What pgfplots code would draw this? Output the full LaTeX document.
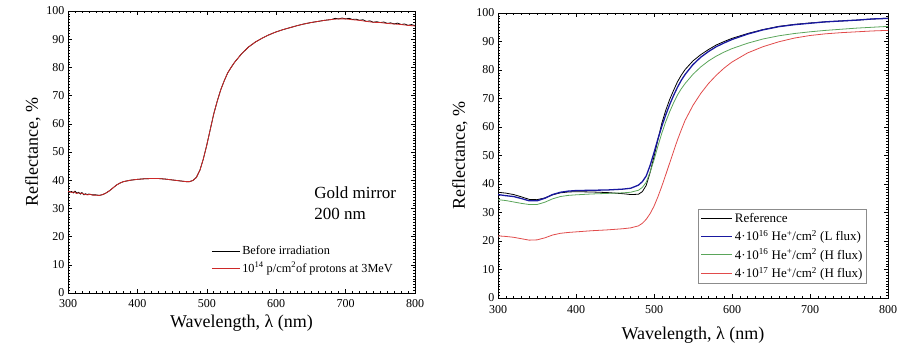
\documentclass[border=0pt]{standalone}
\usepackage{pgfplots}
\pgfplotsset{compat=1.18}
\usepackage{fontspec}
\setmainfont{Liberation Serif}

\definecolor{irrred}{RGB}{205,40,40}
\definecolor{lfluxblue}{RGB}{25,25,160}
\definecolor{hfluxgreen}{RGB}{90,165,90}
\definecolor{hfluxred}{RGB}{225,75,75}

\newcommand\labelfont{\fontsize{18bp}{20bp}\selectfont}

\pgfplotsset{
  reflaxis/.style={
    scale only axis,
    xmin=300, xmax=800, ymin=0, ymax=100,
    xtick={300,400,...,800}, ytick={0,10,...,100},
    minor x tick num=9, minor y tick num=9,
    tick align=inside, xtick pos=both, ytick pos=both,
    major tick length=4bp, minor tick length=2bp,
    every tick/.style={black, line width=0.5pt},
    axis line style={line width=0.9pt},
    /pgf/number format/assume math mode=true,
    ticklabel style={font=\fontsize{12bp}{13bp}\selectfont},
    xlabel={Wavelength, λ (nm)},
    ylabel={Reflectance, \%},
    every axis plot/.append style={line width=0.8pt},
    legend cell align=left,
  },
}

\begin{document}
\begin{tikzpicture}
\path[use as bounding box] (0,0) rectangle (913bp,351bp);

% Gold mirror before and after proton irradiation
\begin{axis}[reflaxis,
  at={(68bp,58bp)}, anchor=south west,
  width=347bp, height=282bp,
  every axis x label/.style={at={(axis description cs:0.5,0)}, yshift=-30bp, anchor=center, font=\labelfont},
  every axis y label/.style={at={(axis description cs:0,0.5)}, xshift=-35bp, rotate=90, anchor=center, font=\labelfont},
  xticklabel style={yshift=-3bp},
  legend style={at={(axis description cs:0.41,0.178)}, anchor=north west,
    draw=none, fill=none, font=\fontsize{12.3bp}{13.5bp}\selectfont,
    row sep=2bp, inner sep=1bp},
  legend image code/.code={\draw[#1] (0bp,0bp) -- (28bp,0bp);},
]
\addplot[black] coordinates {
(300,36.2) (302,35.7) (305,36.0) (308,35.5) (310,36.1) (313,35.4) (315,35.7) (318,35.1)
(320,35.6) (323,34.8) (325,35.2) (328,34.9) (330,35.1) (335,34.8) (340,34.8) (345,34.6)
(350,34.9) (355,35.5) (360,36.3) (365,37.3) (370,38.3) (375,39.0) (380,39.5) (390,40.0)
(400,40.3) (410,40.5) (420,40.6) (430,40.6) (440,40.4) (450,40.1) (460,39.8) (470,39.5)
(475,39.5) (480,39.9) (485,41.0) (490,43.5) (495,47.5) (500,52.5) (505,58.0) (510,63.5)
(515,68.0) (520,72.0) (525,75.2) (530,78.0) (535,80.0) (540,81.8) (550,84.8) (560,87.2)
(570,89.0) (580,90.4) (590,91.6) (600,92.6) (610,93.4) (620,94.1) (630,94.8) (640,95.4)
(650,95.9) (660,96.3) (670,96.7) (680,97.0) (685,97.4) (690,97.2) (695,97.5) (700,97.2)
(705,97.4) (710,97.0) (715,97.1) (720,96.7) (725,96.9) (730,96.3) (735,96.5) (740,96.0)
(745,96.2) (750,95.9) (755,96.1) (760,95.6) (765,95.8) (770,95.4) (775,95.7) (780,95.2)
(785,95.4) (790,94.9) (795,95.2) (800,94.8)
};
\addlegendentry{Before irradiation}
\addplot[irrred] coordinates {
(300,36.0) (303,35.9) (306,35.6) (309,35.9) (312,35.3) (316,35.5) (320,35.3) (324,35.0)
(328,34.8) (332,35.0) (336,34.7) (340,34.7) (345,34.6) (350,34.9) (355,35.5) (360,36.3)
(365,37.3) (370,38.3) (375,39.0) (380,39.5) (390,40.0) (400,40.3) (410,40.5) (420,40.6)
(430,40.6) (440,40.4) (450,40.1) (460,39.8) (470,39.5) (475,39.5) (480,39.9) (485,41.0)
(490,43.5) (495,47.5) (500,52.5) (505,58.0) (510,63.5) (515,68.0) (520,72.0) (525,75.2)
(530,78.0) (535,80.0) (540,81.8) (550,84.8) (560,87.2) (570,89.0) (580,90.4) (590,91.6)
(600,92.6) (610,93.4) (620,94.1) (630,94.8) (640,95.4) (650,95.9) (660,96.3) (670,96.7)
(680,97.0) (690,97.2) (700,97.2) (710,96.9) (720,96.7) (730,96.3) (740,96.0) (750,95.9)
(760,95.6) (770,95.4) (780,95.2) (790,94.9) (800,94.7)
};
\addlegendentry{10\textsuperscript{14} p/cm\textsuperscript{2}of protons at 3MeV}
\node[anchor=west, align=left, font=\fontsize{17bp}{21bp}\selectfont]
  at (axis cs:650,32) {Gold mirror\\200 nm};
\end{axis}

% Gold mirror after He+ irradiation at different fluences and fluxes
\begin{axis}[reflaxis,
  at={(498bp,53bp)}, anchor=south west,
  width=390bp, height=285bp,
  every axis x label/.style={at={(axis description cs:0.5,0)}, yshift=-37bp, anchor=center, font=\labelfont},
  every axis y label/.style={at={(axis description cs:0,0.5)}, xshift=-38bp, rotate=90, anchor=center, font=\labelfont},
  xticklabel style={yshift=-4bp},
  legend style={at={(axis description cs:0.513,0.312)}, anchor=north west,
    draw=black!45, fill=white, font=\fontsize{13bp}{14bp}\selectfont,
    row sep=2.5bp, inner sep=2bp, line width=0.6pt},
  legend image code/.code={\draw[#1] (0bp,0bp) -- (31bp,0bp);},
]
\addplot[black] coordinates {
(300,37.1) (310,36.8) (320,36.3) (330,35.5) (340,34.6) (350,34.5) (360,35.1) (370,36.2)
(380,36.9) (390,37.2) (400,37.3) (420,37.2) (440,37.0) (460,36.6) (470,36.3) (480,36.4)
(485,37.3) (490,39.5) (495,44.0) (500,49.6) (505,55.5) (510,61.3) (515,65.8) (520,69.6)
(525,72.8) (530,75.8) (535,78.2) (540,80.2) (550,83.2) (560,85.4) (570,87.2) (580,88.8)
(590,90.0) (600,91.1) (620,92.8) (640,94.2) (660,95.3) (680,96.0) (700,96.5) (720,96.9)
(740,97.2) (760,97.5) (780,97.9) (800,98.2)
};
\addlegendentry{Reference}
\addplot[lfluxblue, line width=1.3pt, forget plot] coordinates {
(300,36.3) (310,35.9) (320,35.6) (330,34.9) (340,34.1) (350,34.1) (360,35.0) (370,36.3)
(380,37.1) (390,37.5) (400,37.7) (420,37.8) (440,37.9) (460,38.2) (470,38.5) (480,39.6)
(485,40.8) (490,42.8) (495,46.5) (500,51.0) (505,55.8) (510,60.2) (515,64.2) (520,67.8)
(525,71.0) (530,73.9) (535,76.4) (540,78.5) (550,81.9) (560,84.5) (570,86.5) (580,88.2)
(590,89.5) (600,90.7) (620,92.6) (640,94.1) (660,95.2) (680,95.9) (700,96.4) (720,96.9)
(740,97.2) (760,97.5) (780,97.9) (800,98.1)
};
\addlegendimage{lfluxblue, line width=1.6pt}
\addlegendentry{4·10\textsuperscript{16} He\textsuperscript{+}/cm\textsuperscript{2} (L flux)}
\addplot[hfluxgreen] coordinates {
(300,34.5) (310,34.2) (320,33.7) (330,33.2) (340,32.8) (350,32.8) (360,33.6) (370,34.8)
(380,35.6) (390,36.0) (400,36.2) (420,36.5) (440,36.7) (460,36.9) (470,37.1) (480,37.8)
(485,38.8) (490,40.6) (495,44.2) (500,48.4) (505,53.3) (510,57.8) (515,61.8) (520,65.3)
(525,68.4) (530,71.2) (535,73.4) (540,75.3) (550,78.5) (560,81.1) (570,83.2) (580,84.9)
(590,86.3) (600,87.5) (620,89.4) (640,90.9) (660,92.0) (680,92.8) (700,93.4) (720,93.9)
(740,94.3) (760,94.7) (780,95.0) (800,95.3)
};
\addlegendentry{4·10\textsuperscript{16} He\textsuperscript{+}/cm\textsuperscript{2} (H flux)}
\addplot[hfluxred] coordinates {
(300,21.8) (310,21.6) (320,21.3) (330,20.8) (340,20.3) (350,20.4) (360,21.1) (370,22.1)
(380,22.7) (390,23.0) (400,23.2) (420,23.6) (440,23.9) (460,24.3) (470,24.6) (480,25.3)
(485,26.2) (490,27.6) (495,29.6) (500,32.2) (505,35.5) (510,39.2) (515,43.2) (520,47.3)
(525,51.4) (530,55.4) (535,59.0) (540,62.4) (550,67.6) (560,71.8) (570,75.3) (580,78.2)
(590,80.7) (600,82.8) (620,86.0) (640,88.2) (660,89.9) (680,91.2) (700,92.1) (720,92.7)
(740,93.1) (760,93.4) (780,93.7) (800,93.9)
};
\addlegendentry{4·10\textsuperscript{17} He\textsuperscript{+}/cm\textsuperscript{2} (H flux)}
\end{axis}
\end{tikzpicture}
\end{document}
